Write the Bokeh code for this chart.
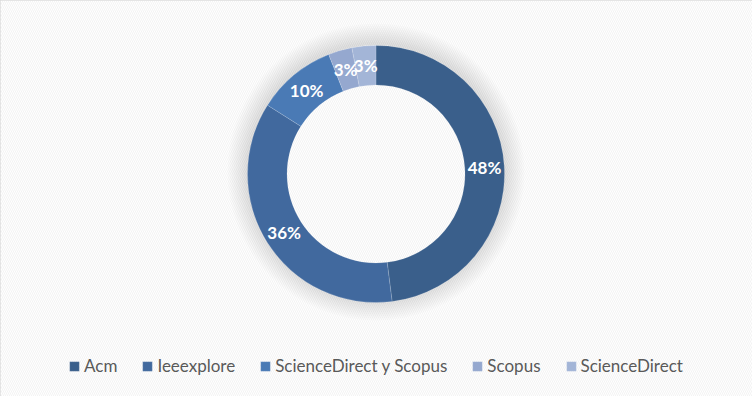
import numpy as np
from bokeh.plotting import figure
from bokeh.models import ColumnDataSource, Range1d, BoxAnnotation
from bokeh.core.properties import value
from bokeh.embed import file_html
from bokeh.resources import INLINE

# ---- data ----
categories = ["Acm", "Ieeexplore", "ScienceDirect y Scopus", "Scopus", "ScienceDirect"]
percent = [48, 36, 10, 3, 3]
colors = ["#3A5F8B", "#41699E", "#4A7AB5", "#95A8CF", "#A3B5D7"]
labels = [f"{v}%" for v in percent]

W, H = 752, 396
CX, CY = 375.5, H - 173.5
R_IN, R_OUT = 89, 128.5

frac = np.array(percent, dtype=float) / sum(percent)
c1 = np.cumsum(frac)
c0 = c1 - frac
start = np.pi / 2 - 2 * np.pi * c1
end = np.pi / 2 - 2 * np.pi * c0
mid = (start + end) / 2
rl = (R_IN + R_OUT) / 2

src = ColumnDataSource(dict(
    category=categories, percent=percent, color=colors, label=labels,
    start=start, end=end,
    x=[CX] * len(categories), y=[CY] * len(categories),
    lx=CX + rl * np.cos(mid), ly=CY + rl * np.sin(mid),
))

p = figure(width=W, height=H, output_backend="svg", toolbar_location=None,
           x_range=Range1d(0, W), y_range=Range1d(0, H), min_border=0)
p.axis.visible = False
p.grid.visible = False
p.background_fill_color = "white"
p.border_fill_color = "white"
p.outline_line_color = "#d9d9d9"
p.outline_line_width = 3

# patterned background
p.quad(left=[0], right=[W], bottom=[0], top=[H], fill_color="white", line_color=None,
       hatch_pattern="left_diagonal_line", hatch_color="#f3f3f3", hatch_scale=4, hatch_weight=1)

# soft halo around ring
for k in range(10):
    p.annulus(x=[CX], y=[CY + 2], inner_radius=R_OUT - 2, outer_radius=R_OUT + 2 + k * 2,
              fill_color="black", fill_alpha=0.01, line_color=None)

p.annular_wedge(x="x", y="y", inner_radius=R_IN, outer_radius=R_OUT,
                start_angle="start", end_angle="end", direction="anticlock",
                fill_color="color", line_color="white", line_width=0.5, line_alpha=0.3,
                legend_field="category", source=src)

p.text(x="lx", y="ly", text="label", source=src, text_color="white",
       text_font=value("Lato"), text_font_style="bold", text_font_size="17px",
       text_align="center", text_baseline="middle")

# legend box
p.add_layout(BoxAnnotation(left=47, right=705, bottom=H - 383, top=H - 348,
                           fill_color="white", fill_alpha=0.95, line_color=None, level="underlay"))

lg = p.legend[0]
lg.orientation = "horizontal"
lg.location = (68, H - 376)
lg.padding = 5
lg.margin = 0
lg.spacing = 24
lg.glyph_width = 12
lg.glyph_height = 12
lg.label_standoff = 4
lg.label_text_font = "Lato"
lg.label_text_font_size = "17px"
lg.label_text_color = "#595959"
lg.background_fill_alpha = 0
lg.border_line_color = None

open("out.html", "w").write(file_html(p, INLINE))
